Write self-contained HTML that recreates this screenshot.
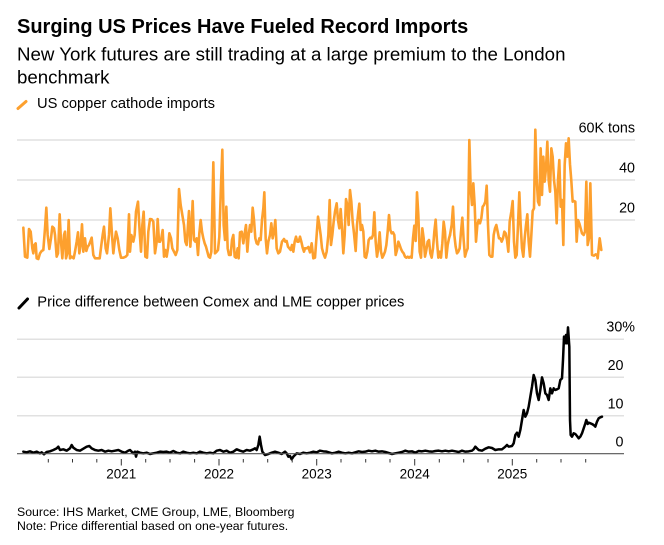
<!DOCTYPE html>
<html>
<head>
<meta charset="utf-8">
<style>
html,body{margin:0;padding:0;background:#fff;width:664px;height:545px;overflow:hidden}
svg{display:block}
text{font-family:"Liberation Sans",Arial,sans-serif;fill:#000}
.o{fill:none;stroke:#fda02e;stroke-width:2.6;stroke-linejoin:round;stroke-linecap:round}
.k{fill:none;stroke:#000;stroke-width:2.5;stroke-linejoin:round;stroke-linecap:round}
</style>
</head>
<body>
<svg width="664" height="545" viewBox="0 0 664 545" xmlns="http://www.w3.org/2000/svg">
  <!-- Titles -->
  <text x="17" y="33" font-size="20" font-weight="bold">Surging US Prices Have Fueled Record Imports</text>
  <text x="17" y="60.5" font-size="18.7" fill="#111">New York futures are still trading at a large premium to the London</text>
  <text x="17" y="83.5" font-size="18.7" fill="#111">benchmark</text>

  <!-- Legend 1 -->
  <line x1="18" y1="108.5" x2="26" y2="101.5" stroke="#fda02e" stroke-width="3" stroke-linecap="round"/>
  <text x="37" y="108" font-size="14.7">US copper cathode imports</text>

  <!-- Top chart grid -->
  <g stroke="#e1e1e1" stroke-width="1.5">
    <line x1="17" y1="140" x2="635" y2="140"/>
    <line x1="17" y1="180" x2="635" y2="180"/>
    <line x1="17" y1="220" x2="635" y2="220"/>
  </g>
  <text x="635" y="132.3" font-size="14.3" text-anchor="end">60K tons</text>
  <text x="635" y="172.3" font-size="14.3" text-anchor="end">40</text>
  <text x="635" y="212.3" font-size="14.3" text-anchor="end">20</text>

  <!-- Orange series -->
  <g transform="translate(15,125) scale(0.333333)">
    <polyline class="o" vector-effect="non-scaling-stroke" points="25,308 30,395 37,398 42,312 47,320 52,370 55,385 58,360 62,355 65,400 70,402 75,385 80,378 85,375 90,310 94,248 98,330 103,372 108,340 112,305 117,310 120,330 125,395 129,385 134,268 138,350 142,400 147,330 150,320 153,400 157,385 161,285 165,400 170,395 176,400 180,380 185,350 189,322 193,385 197,360 201,298 205,380 210,340 214,378 218,365 222,360 226,350 230,338 235,390 240,400 248,400 254,400 259,360 263,330 267,305 272,370 276,385 282,330 286,250 291,330 295,385 299,350 303,320 308,340 313,375 318,398 325,398 332,395 337,390 342,268 345,380 349,330 355,350 359,330 363,260 369,230 374,320 378,380 382,300 386,260 391,395 396,398 400,320 405,282 410,283 415,290 420,385 425,350 428,282 432,350 435,350"/>
  </g>
  <g transform="translate(160,125) scale(0.333333)">
    <polyline class="o" vector-effect="non-scaling-stroke" points="0,350 4,340 8,315 12,395 16,375 20,395 24,370 28,325 33,340 37,370 42,380 47,390 52,375 57,192 62,240 67,270 72,300 76,350 80,360 84,300 87,258 91,365 95,300 98,228 102,345 106,350 110,340 114,390 118,325 122,285 126,320 130,340 134,355 138,365 142,380 146,395 150,398 154,380 160,112 165,385 170,380 174,375 178,335 183,180 187,74 191,300 195,345 199,245 203,370 207,390 212,390 216,345 220,330 224,395 228,398 233,370 236,400 240,322 245,320 250,355 254,325 258,300 262,380 266,330 270,300 274,320 278,248 282,285 286,340 290,355 294,358 298,340 302,345 306,285 310,250 313,202 317,340 321,385 325,350 330,330 334,295 338,340 342,320 346,285 350,370 355,385 360,380 366,350 372,342 376,350 380,348 384,365 388,370 392,375 396,360 400,380 404,350 408,335 412,350 416,350 420,335 424,350 428,368 432,380 435,370"/>
  </g>
  <g transform="translate(305,125) scale(0.333333)">
    <polyline class="o" vector-effect="non-scaling-stroke" points="0,370 5,370 10,366 15,382 20,355 25,400 30,398 35,330 39,275 43,300 47,330 51,370 55,385 60,398 65,380 70,330 74,225 78,360 82,330 86,290 90,260 95,235 99,285 103,310 107,252 111,310 115,385 119,330 123,222 127,240 131,300 135,195 139,230 143,290 147,325 152,378 156,300 160,260 163,236 167,315 171,300 175,320 179,395 183,398 187,380 191,345 196,338 200,340 204,330 208,262 212,350 216,395 220,370 224,322 228,380 232,398 236,390 240,380 244,360 248,320 252,270 256,315 260,325 264,322 268,330 272,390 276,375 280,350 284,360 288,372 292,380 296,385 300,395 304,398 308,395 312,398 316,395 320,398 324,340 328,302 332,348 336,202 340,270 344,380 348,398 352,310 356,340 360,395 364,375 368,350 372,345 376,385 380,398 384,370 388,320 392,284 396,350 400,398 404,380 408,398 412,355 416,290 420,320 424,398 428,360 432,340 435,330"/>
  </g>
  <g transform="translate(450,125) scale(0.333333)">
    <polyline class="o" vector-effect="non-scaling-stroke" points="0,330 5,300 9,245 13,330 17,365 21,385 25,380 29,370 33,320 37,278 41,345 45,395 49,380 53,370 58,45 62,190 66,240 70,175 74,240 78,350 82,300 86,285 90,295 94,280 98,245 102,240 106,230 110,182 114,300 118,390 123,395 127,395 131,330 135,310 139,300 143,320 147,340 151,340 155,350 159,340 163,320 167,325 171,345 175,380 179,290 184,260 188,228 192,350 196,398 200,390 204,300 208,202 212,300 216,370 220,395 224,340 228,300 232,268 236,350 240,395 244,330 248,258 252,250 256,14 260,160 264,230 268,240 272,70 276,210 280,95 284,170 288,130 292,50 296,165 300,200 304,70 308,95 312,165 316,200 320,295 324,165 328,105 332,245 336,225 340,360 344,120 348,55 352,95 356,40 360,118 364,168 368,230 372,228 376,230 380,350 384,285 388,295 392,310 396,325 401,330 405,320 409,170 413,360 417,340 421,175 426,390 432,392 437,388 441,390 443,400 449,340 454,375"/>
  </g>

  <!-- Legend 2 -->
  <line x1="19" y1="308" x2="27.5" y2="299" stroke="#000" stroke-width="3" stroke-linecap="round"/>
  <text x="37.3" y="306.7" font-size="14.7">Price difference between Comex and LME copper prices</text>

  <!-- Bottom chart grid -->
  <g stroke="#e1e1e1" stroke-width="1.5">
    <line x1="17" y1="339.3" x2="624" y2="339.3"/>
    <line x1="17" y1="377.3" x2="624" y2="377.3"/>
    <line x1="17" y1="415.7" x2="624" y2="415.7"/>
  </g>
  <text x="635" y="331.7" font-size="14.3" text-anchor="end">30%</text>
  <text x="623.5" y="370" font-size="14.3" text-anchor="end">20</text>
  <text x="623.5" y="408.3" font-size="14.3" text-anchor="end">10</text>
  <text x="623.5" y="446.7" font-size="14.3" text-anchor="end">0</text>

  <!-- Black series -->
  <g transform="translate(0,280) scale(0.333333)">
    <polyline class="k" vector-effect="non-scaling-stroke" points="70,515 80,517 90,514 100,518 110,515 120,520 125,517 132,523 140,516 150,514 160,510 170,505 175,500 180,510 190,508 200,512 210,505 215,495 220,503 230,510 240,512 250,506 260,500 268,498 275,505 285,510 295,512 305,510 315,515 325,512 335,514 345,512 355,510 365,515 375,518 385,512 390,510 400,520 405,515 408,530 412,515 420,518 430,520 440,518 450,522 460,520 470,518 480,515 490,516 500,515 510,518 520,513 530,518 540,520 550,515 560,518 570,520 580,518 590,520 600,515 610,518 620,520 630,518 640,520 650,512 660,510 670,515 680,512 690,518 700,515 710,508 720,512 730,515 740,510 750,512 760,508 765,505 770,510 775,495 779,470 783,495 787,515 795,525 805,522 815,518 825,515 835,518 845,522 855,515 860,520 865,530 870,528 875,538 880,530 890,520 900,522 910,518 920,520 930,518 940,515 950,517 960,512 970,514 980,515 996,520"/>
  </g>
  <g transform="translate(332,280) scale(0.333333)">
    <polyline class="k" vector-effect="non-scaling-stroke" points="0,520 10,518 20,515 30,518 40,520 50,518 60,520 70,517 80,514 90,516 100,515 110,512 120,514 130,512 140,515 150,514 160,516 170,519 180,522 190,520 200,518 210,516 220,512 230,515 240,514 250,518 260,513 270,514 280,512 290,514 300,515 310,513 320,512 330,514 340,512 350,514 360,512 370,514 380,516 390,512 400,515 410,514 420,512 425,508 430,500 435,505 440,510 450,512 460,506 470,502 480,504 490,510 500,508 510,508 520,500 525,495 530,500 540,498 545,490 550,465 555,458 560,470 565,450 570,420 575,390 580,410 585,400 590,380 595,350 600,320 605,285 610,300 615,340 620,360 625,330 630,292 635,310 640,340 645,345 650,360 655,325 660,340 665,325 670,330 675,328 680,325 685,300 690,295 693,240 696,170 699,190 702,165 705,190 708,142 712,200 714,420 716,465 720,470 725,460 730,462 735,468 740,475 745,470 750,460 755,445 760,430 763,420 767,432 770,428 775,430 780,432 785,435 790,440 795,425 800,415 805,412 810,410"/>
  </g>

  <!-- Baseline -->
  <line x1="17" y1="453.7" x2="624" y2="453.7" stroke="#555" stroke-width="1.2"/>

  <!-- Ticks -->
  <g stroke="#333" stroke-width="1">
    <line x1="48.3" y1="459" x2="48.3" y2="462.5"/>
    <line x1="72.5" y1="459" x2="72.5" y2="462.5"/>
    <line x1="96.8" y1="459" x2="96.8" y2="462.5"/>
    <line x1="121.3" y1="459" x2="121.3" y2="465.5"/>
    <line x1="145.7" y1="459" x2="145.7" y2="462.5"/>
    <line x1="170" y1="459" x2="170" y2="462.5"/>
    <line x1="194.6" y1="459" x2="194.6" y2="462.5"/>
    <line x1="219" y1="459" x2="219" y2="465.5"/>
    <line x1="243.3" y1="459" x2="243.3" y2="462.5"/>
    <line x1="267.7" y1="459" x2="267.7" y2="462.5"/>
    <line x1="292.2" y1="459" x2="292.2" y2="462.5"/>
    <line x1="316.7" y1="459" x2="316.7" y2="465.5"/>
    <line x1="341" y1="459" x2="341" y2="462.5"/>
    <line x1="365.7" y1="459" x2="365.7" y2="462.5"/>
    <line x1="390" y1="459" x2="390" y2="462.5"/>
    <line x1="414.7" y1="459" x2="414.7" y2="465.5"/>
    <line x1="439.3" y1="459" x2="439.3" y2="462.5"/>
    <line x1="463.7" y1="459" x2="463.7" y2="462.5"/>
    <line x1="488" y1="459" x2="488" y2="462.5"/>
    <line x1="512.3" y1="459" x2="512.3" y2="465.5"/>
    <line x1="536.7" y1="459" x2="536.7" y2="462.5"/>
    <line x1="561" y1="459" x2="561" y2="462.5"/>
    <line x1="585.7" y1="459" x2="585.7" y2="462.5"/>
  </g>
  <g font-size="13.5" text-anchor="middle">
    <text x="121.3" y="478.5">2021</text>
    <text x="219" y="478.5">2022</text>
    <text x="316.7" y="478.5">2023</text>
    <text x="414.7" y="478.5">2024</text>
    <text x="512.3" y="478.5">2025</text>
  </g>

  <!-- Footer -->
  <text x="17" y="516" font-size="12.3" fill="#222">Source: IHS Market, CME Group, LME, Bloomberg</text>
  <text x="17" y="530" font-size="12.3" fill="#222">Note: Price differential based on one-year futures.</text>
</svg>
</body>
</html>
